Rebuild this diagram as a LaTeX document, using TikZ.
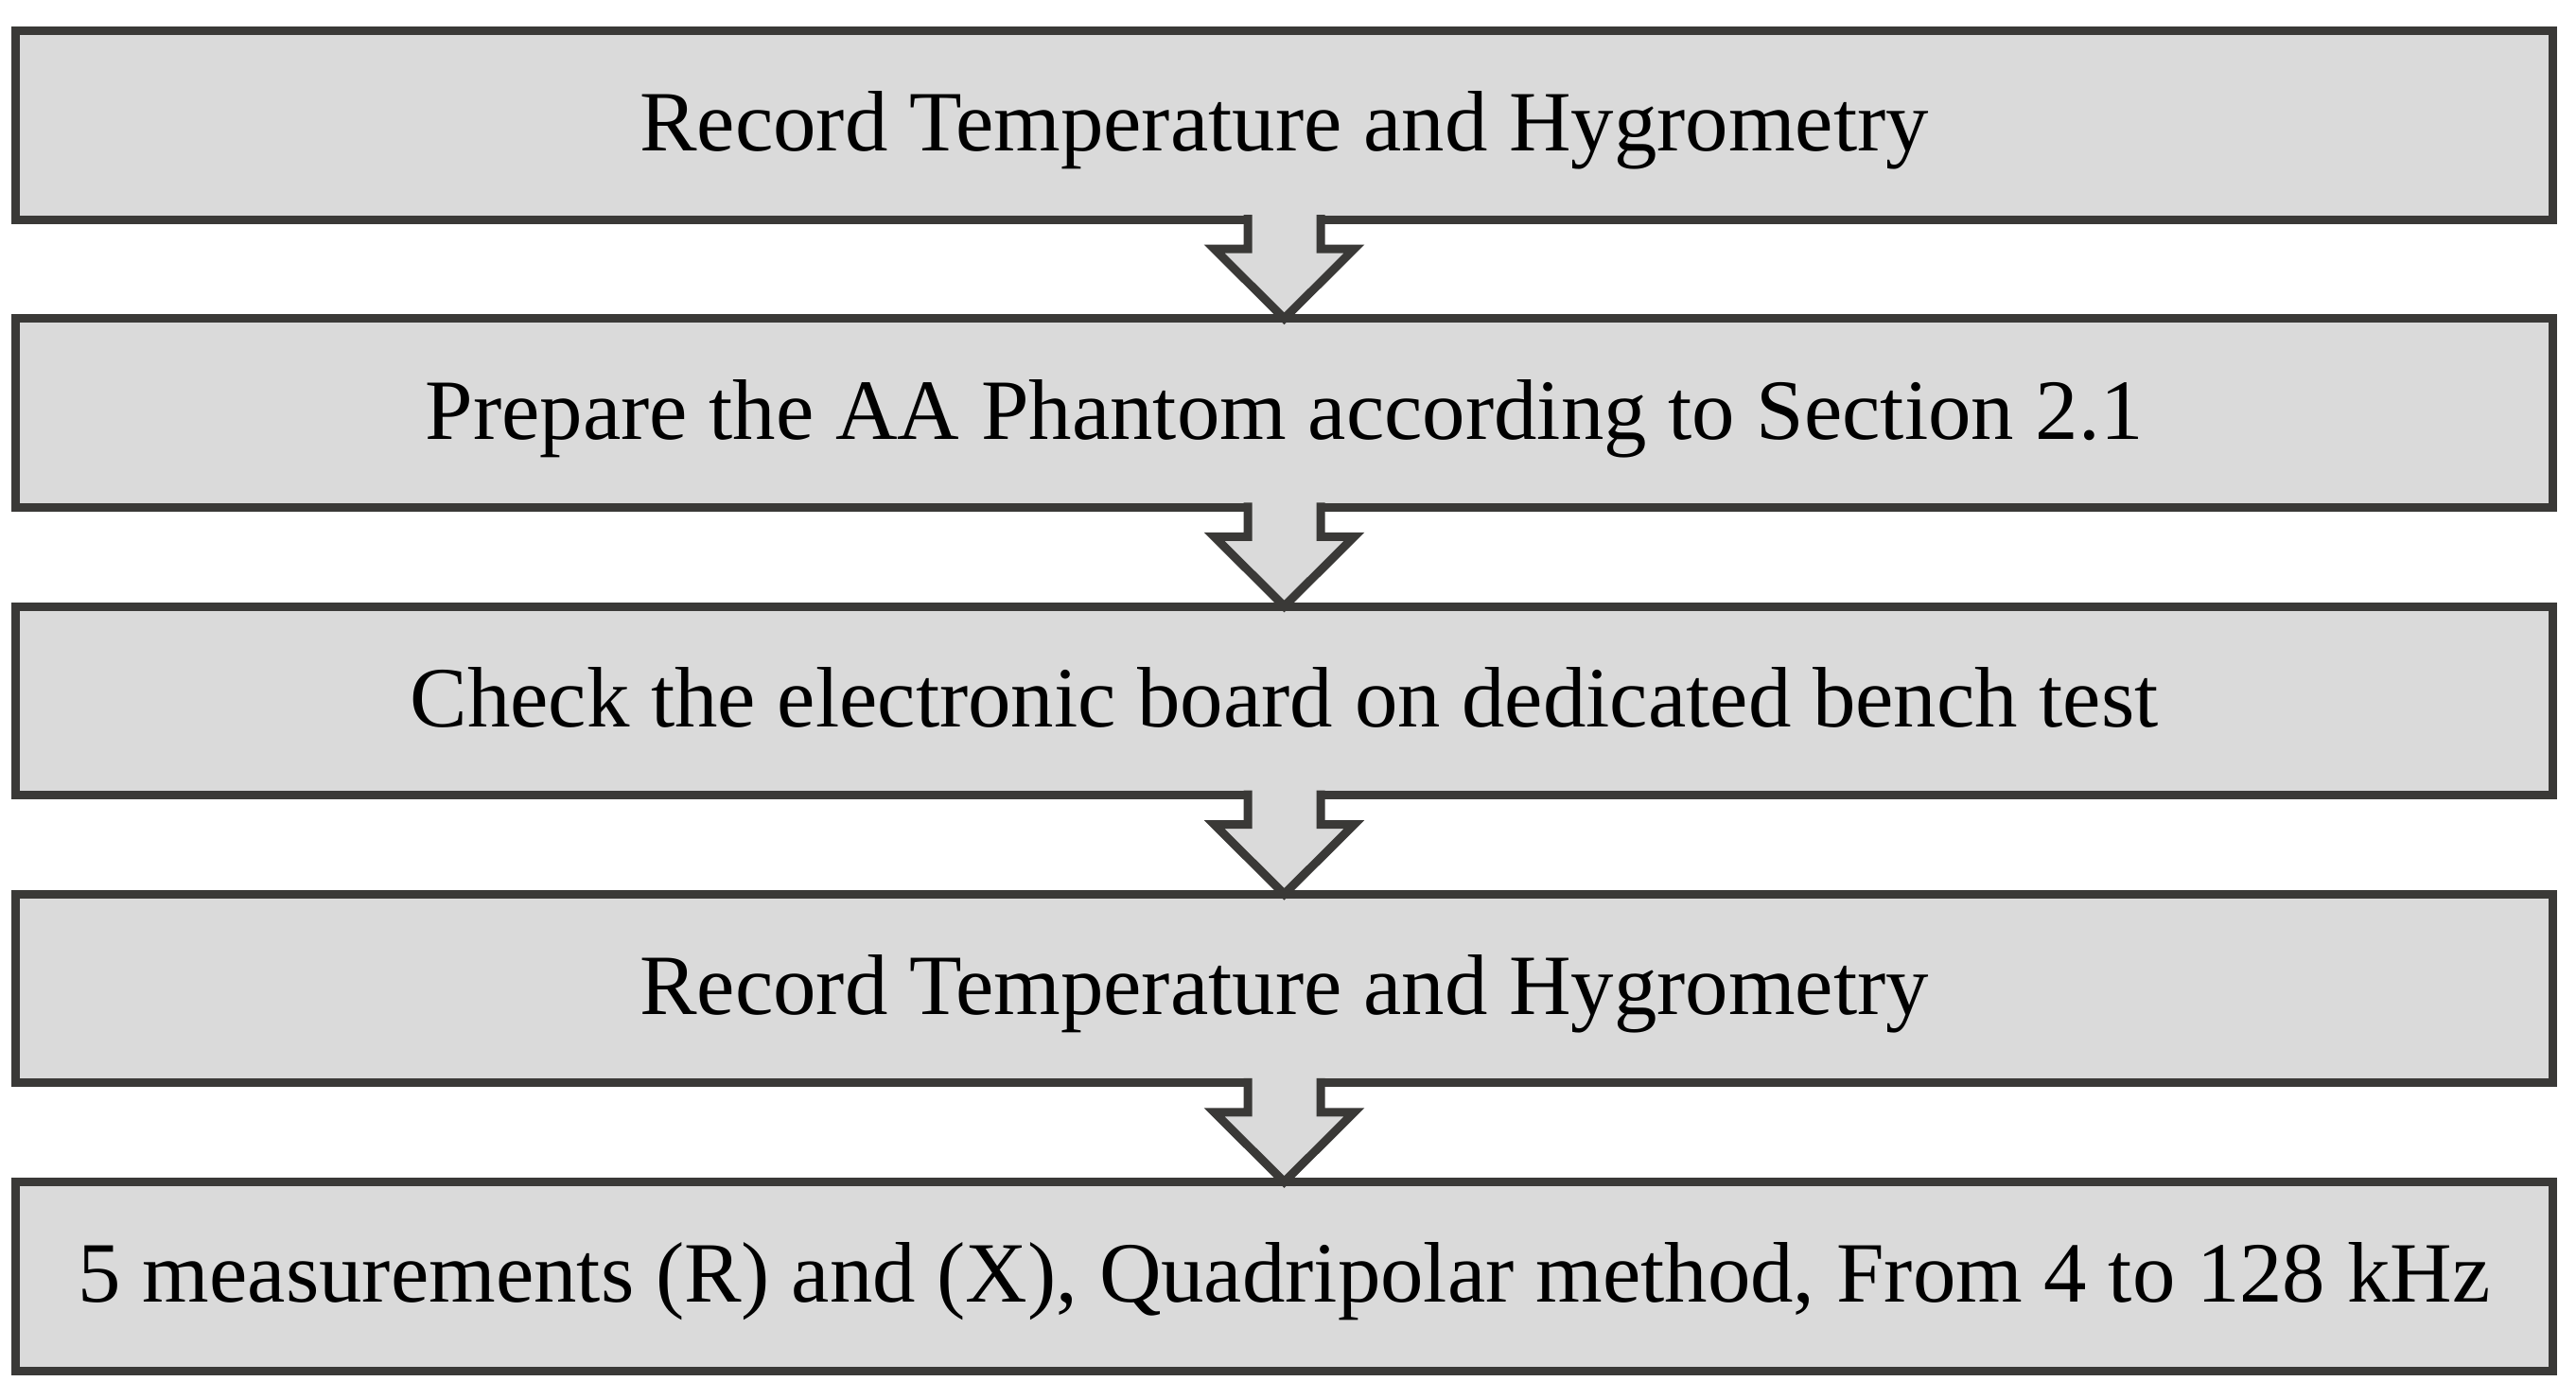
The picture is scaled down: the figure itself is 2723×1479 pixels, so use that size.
\documentclass[tikz,border=0pt]{standalone}
\usepackage{fontspec}
\setmainfont{Liberation Serif}
\usetikzlibrary{calc}
\definecolor{boxgray}{RGB}{218,218,218}
\definecolor{edgegray}{RGB}{58,57,55}
\tikzset{
  stepbox/.style={draw=edgegray, fill=boxgray, line width=2.25pt, outer sep=0pt,
    minimum width=670.5pt, minimum height=49.875pt, inner sep=0pt,
    text height=13.85pt, text depth=0pt,
    font=\fontsize{22.7pt}{27pt}\selectfont},
  arrowline/.style={draw=edgegray, line width=2.25pt, line join=miter, miter limit=20},
}
\newcommand{\blockarrow}[2]{%
  \fill[boxgray] ($(#1.south)+(-38.5,-5)$) -- ($(#1.south)+(-38.5,31)$) -- ($(#1.south)+(-74,31)$) -- (#2.north) -- ($(#1.south)+(74,31)$) -- ($(#1.south)+(38.5,31)$) -- ($(#1.south)+(38.5,-5)$) -- cycle;
  \draw[arrowline] ($(#1.south)+(-38.5,-5)$) -- ($(#1.south)+(-38.5,31)$) -- ($(#1.south)+(-74,31)$) -- (#2.north) -- ($(#1.south)+(74,31)$) -- ($(#1.south)+(38.5,31)$) -- ($(#1.south)+(38.5,-5)$);
}
\begin{document}
\begin{tikzpicture}[x=0.25pt, y=-0.25pt]
\useasboundingbox (0,0) rectangle (2723,1479);
\node[stepbox] (b1) at (1357.5,132.25) {Record Temperature and Hygrometry};
\node[stepbox] (b2) at (1357.5,436.5) {Prepare the AA Phantom according to Section 2.1};
\node[stepbox] (b3) at (1357.5,740.75) {Check the electronic board on dedicated bench test};
\node[stepbox] (b4) at (1357.5,1045) {Record Temperature and Hygrometry};
\node[stepbox] (b5) at (1357.5,1349.25) {5 measurements (R) and (X), Quadripolar method, From 4 to 128 kHz};
\blockarrow{b1}{b2}
\blockarrow{b2}{b3}
\blockarrow{b3}{b4}
\blockarrow{b4}{b5}
\end{tikzpicture}
\end{document}
